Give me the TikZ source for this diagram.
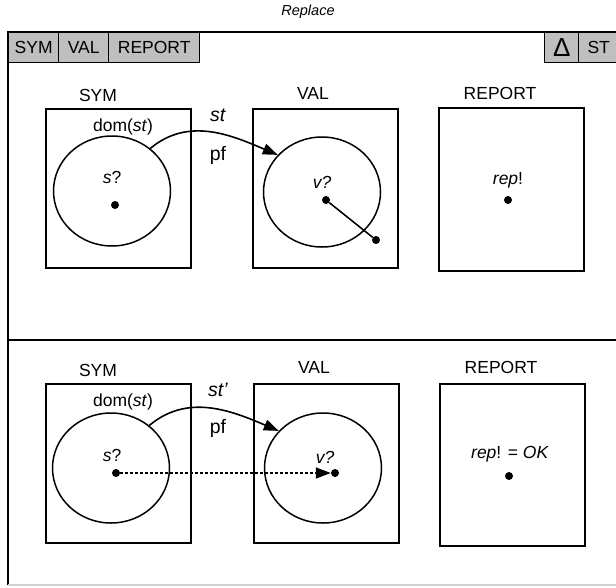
\documentclass[tikz,border=0pt]{standalone}
\usepackage{fontspec}
\setmainfont{Liberation Sans}
\usetikzlibrary{arrows.meta,positioning,shapes.geometric}
\tikzset{
  tabbox/.style ={draw,fill=black!25,line width=1.4pt,anchor=north west,inner sep=0pt,
                  minimum height=30pt,font=\fontsize{17.5}{20}\selectfont},
  setbox/.style ={draw,line width=1.8pt,anchor=north west,inner sep=0pt,
                  minimum width=145pt,minimum height=159pt},
  setcirc/.style={ellipse,draw,line width=1.5pt,inner sep=0pt,
                  minimum width=117pt,minimum height=110pt},
  elt/.style    ={circle,fill,inner sep=0pt,minimum size=8pt},
  lbl/.style    ={font=\fontsize{17.5}{20}\selectfont,inner sep=1pt},
  fnlbl/.style  ={font=\fontsize{19.5}{22}\selectfont,inner sep=1pt},
  fun/.style    ={-{Triangle[length=15pt,width=11pt]},line width=1.6pt},
  maplet/.style ={fun,line width=1.4pt,dash pattern=on 3pt off 2pt},
  frm/.style    ={line width=2pt},
}
\begin{document}
\begin{tikzpicture}[x=1pt,y=1pt]
\useasboundingbox (0,0) rectangle (616,-587);
\node[font=\fontsize{14.5}{16}\selectfont\itshape] (title) at (308,-12) {Replace};

% schema frame and its tabs
\coordinate (fTL) at (8,-32);
\coordinate (fTR) at (620,-32);
\coordinate (fBL) at (8,-585);
\coordinate (fBR) at (620,-585);
\draw[frm] (fBL) -- (fTL) -- (fTR);
\draw[frm] (8,-340) -- (620,-340);
\draw[line width=1.8pt,black!18] (fBL) -- (fBR);

\node[tabbox,minimum width=50pt] (tSym) at (8,-32)   {SYM};
\node[tabbox,minimum width=50pt] (tVal) at (58,-32)  {VAL};
\node[tabbox,minimum width=91pt] (tRep) at (108,-32) {REPORT};
\node[tabbox,minimum width=34pt,font=\fontsize{26}{28}\selectfont] (tDel) at (544,-32) {Δ};
\node[tabbox,minimum width=40pt] (tSt)  at (578,-32) {ST};

% before: st
\node[setbox] (sym1) at (45,-108) {};
\node[setbox] (val1) at (252,-108) {};
\node[setbox,minimum height=163pt] (rep1) at (438,-107) {};
\node[lbl] at (98,-95)  {SYM};
\node[lbl] at (313,-93) {VAL};
\node[lbl] at (500,-93) {REPORT};
\node[lbl] at (123,-127) {dom(\textit{st})};

\node[setcirc] (dom1) at (112,-191) {};
\node[setcirc] (ran1) at (322,-192) {};
\node[lbl] at (112,-177) {\textit{s}?};
\node[elt] (s1) at (115,-205) {};
\node[lbl] at (322,-182) {\textit{v?}};
\node[elt] (v1) at (326,-200) {};
\node[elt] (w1) at (376,-240) {};
\node[lbl] at (508,-180) {\textit{rep}!};
\node[elt] (r1) at (508,-200) {};

\draw[line width=1.5pt] (v1) -- (w1);
\draw[fun] (dom1.48) to[out=40,in=157] (ran1.140);
\node[fnlbl] at (218,-115) {\textit{st}};
\node[fnlbl] at (218,-155) {pf};

% after: st'
\node[setbox] (sym2) at (45,-383) {};
\node[setbox] (val2) at (253,-383) {};
\node[setbox,minimum height=162pt] (rep2) at (439,-383) {};
\node[lbl] at (98,-370)  {SYM};
\node[lbl] at (314,-367) {VAL};
\node[lbl] at (501,-367) {REPORT};
\node[lbl] at (123,-402) {dom(\textit{st})};

\node[setcirc] (dom2) at (111,-468) {};
\node[setcirc] (ran2) at (323,-468) {};
\node[lbl] at (112,-455) {\textit{s}?};
\node[elt] (s2) at (116,-473) {};
\node[lbl] at (325,-457) {\textit{v?}};
\node[elt] (v2) at (335,-473) {};
\node[lbl] at (510,-454) {\textit{rep}! = \textit{OK}};
\node[elt] (r2) at (509,-476) {};

\draw[maplet] (s2) -- (v2);
\draw[fun] (dom2.48) to[out=40,in=157] (ran2.140);
\node[fnlbl] at (218,-390) {\textit{st'}};
\node[fnlbl] at (218,-428) {pf};
\end{tikzpicture}
\end{document}
